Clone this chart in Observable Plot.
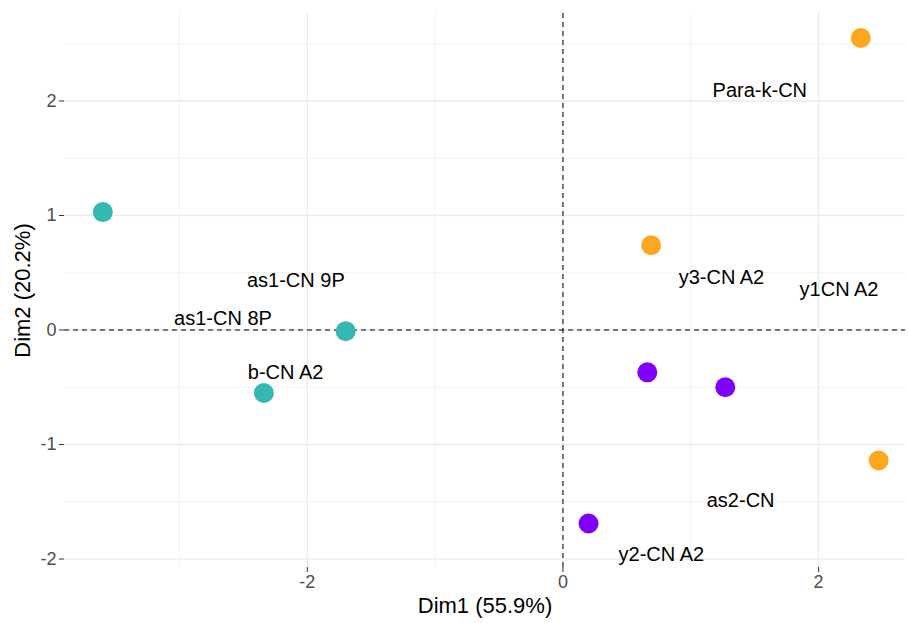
<!DOCTYPE html>
<html>
<head>
<meta charset="utf-8">
<script src="https://cdn.jsdelivr.net/npm/d3@7"></script>
<script src="https://cdn.jsdelivr.net/npm/@observablehq/plot@0.6"></script>
<style>
  html, body { margin: 0; padding: 0; background: #fff; }
  #chart { width: 908px; height: 623px; }
</style>
</head>
<body>
<div id="chart"></div>
<script>
// Points (individuals)
const groups = ["A", "A", "A", "B", "B", "B", "C", "C", "C"];
const dim1 = [-3.60, -1.70, -2.34, 2.33, 0.69, 2.47, 0.66, 1.27, 0.20];
const dim2 = [1.03, -0.01, -0.55, 2.55, 0.74, -1.14, -0.37, -0.50, -1.69];
const groupColors = ["#35B8B1", "#FDA721", "#7F00FF"];

// Labels (as placed on the chart)
const labelNames = ["Para-k-CN", "as1-CN 9P", "as1-CN 8P", "b-CN A2", "y3-CN A2", "y1CN A2", "as2-CN", "y2-CN A2"];
const labelX = [1.54, -2.09, -2.66, -2.17, 1.24, 2.16, 1.39, 0.77];
const labelY = [2.09, 0.43, 0.10, -0.37, 0.46, 0.35, -1.49, -1.96];

const majorX = [-2, 0, 2];
const minorX = [-3, -1, 1];
const majorY = [-2, -1, 0, 1, 2];
const minorY = [-1.5, -0.5, 0.5, 1.5, 2.5];

const points = dim1.map((d, i) => ({x: d, y: dim2[i], g: groups[i]}));
const labels = labelNames.map((n, i) => ({name: n, x: labelX[i], y: labelY[i]}));
const fmt = d => String(d);

const chart = Plot.plot({
  width: 908,
  height: 623,
  marginLeft: 64,
  marginRight: 3,
  marginTop: 13,
  marginBottom: 56,
  style: {fontFamily: "'Liberation Sans', Arial, sans-serif", background: "#fff"},
  x: {domain: [-3.9, 2.68]},
  y: {domain: [-2.074, 2.764]},
  color: {domain: ["A", "B", "C"], range: groupColors},
  marks: [
    Plot.gridX(minorX, {stroke: "#f2f2f2", strokeOpacity: 1, strokeWidth: 1}),
    Plot.gridY(minorY, {stroke: "#f2f2f2", strokeOpacity: 1, strokeWidth: 1}),
    Plot.gridX(majorX, {stroke: "#ebebeb", strokeOpacity: 1, strokeWidth: 1.3}),
    Plot.gridY(majorY, {stroke: "#ebebeb", strokeOpacity: 1, strokeWidth: 1.3}),
    Plot.axisX(majorX, {tickSize: 5, tickPadding: 3, stroke: "#333", fill: "#4d4d4d", fontSize: 18,
      tickFormat: fmt, label: null}),
    Plot.axisY(majorY, {tickSize: 5, tickPadding: 3, stroke: "#333", fill: "#4d4d4d", fontSize: 18,
      tickFormat: fmt, label: null}),
    Plot.axisX({ticks: [], label: "Dim1 (55.9%)", labelAnchor: "center", labelOffset: 45, labelArrow: false,
      fontSize: 22, fill: "#000"}),
    Plot.axisY({ticks: [], label: "Dim2 (20.2%)", labelAnchor: "center", labelOffset: 50, labelArrow: false,
      fontSize: 22, fill: "#000"}),
    Plot.ruleY([0], {stroke: "#000", strokeDasharray: "5,4", strokeWidth: 1}),
    Plot.ruleX([0], {stroke: "#000", strokeDasharray: "5,4", strokeWidth: 1}),
    Plot.dot(points, {x: "x", y: "y", fill: "g", r: 10, stroke: null}),
    Plot.text(labels, {x: "x", y: "y", text: "name", fontSize: 20, fill: "#000"})
  ]
});

document.getElementById("chart").appendChild(chart);
</script>
</body>
</html>
